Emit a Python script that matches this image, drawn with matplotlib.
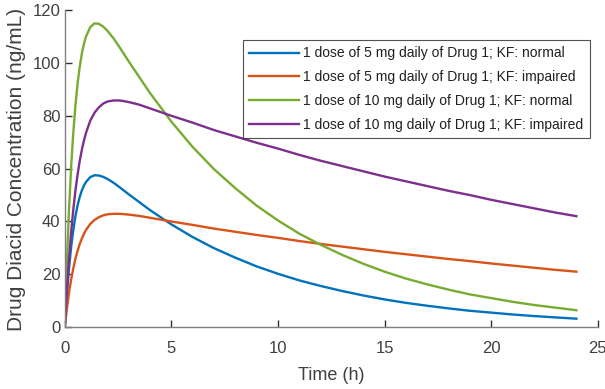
import matplotlib
matplotlib.use("Agg")
import matplotlib.pyplot as plt

# time points (h) and concentrations (ng/mL)
t = [0, 0.1, 0.2, 0.3, 0.4, 0.5, 0.6, 0.7, 0.8, 0.9, 1.0, 1.2, 1.4, 1.6, 1.8, 2.0, 2.3, 2.6,
     3.0, 3.5, 4, 4.5, 5, 6, 7, 8, 9, 10, 11, 12, 13, 14, 15, 16, 17, 18, 19, 20, 21, 22, 23, 24]
dose5_normal = [0, 12.3, 22.2, 30.3, 36.7, 41.9, 46.0, 49.2, 51.7, 53.6, 55.0, 56.8, 57.5, 57.4,
                56.9, 56.1, 54.6, 52.8, 50.3, 47.3, 44.3, 41.6, 38.9, 34.1, 29.9, 26.3, 23.0,
                20.2, 17.7, 15.6, 13.7, 12.0, 10.5, 9.2, 8.1, 7.1, 6.2, 5.5, 4.8, 4.2, 3.7, 3.2]
dose5_impaired = [0, 7.0, 13.0, 18.0, 22.2, 25.8, 28.8, 31.4, 33.5, 35.3, 36.8, 39.1, 40.6, 41.6,
                  42.3, 42.7, 42.9, 42.9, 42.6, 42.1, 41.4, 40.7, 40.0, 38.7, 37.3, 36.1, 34.9,
                  33.8, 32.6, 31.5, 30.5, 29.5, 28.5, 27.6, 26.7, 25.8, 25.0, 24.1, 23.3, 22.5,
                  21.7, 21.0]
dose10_normal = [0, 24.6, 44.4, 60.6, 73.4, 83.8, 92.0, 98.4, 103.4, 107.2, 110.0, 113.6, 115.0,
                 114.8, 113.8, 112.2, 109.2, 105.6, 100.6, 94.6, 88.6, 83.2, 77.8, 68.2, 59.8,
                 52.6, 46.0, 40.4, 35.4, 31.2, 27.4, 24.0, 21.0, 18.4, 16.2, 14.2, 12.4, 11.0,
                 9.6, 8.4, 7.4, 6.4]
dose10_impaired = [0, 14.0, 26.0, 36.0, 44.4, 51.6, 57.6, 62.8, 67.0, 70.6, 73.6, 78.2, 81.2,
                   83.2, 84.6, 85.4, 85.8, 85.8, 85.2, 84.2, 82.8, 81.4, 80.0, 77.4, 74.6, 72.2,
                   69.8, 67.6, 65.2, 63.0, 61.0, 59.0, 57.0, 55.2, 53.4, 51.6, 50.0, 48.2, 46.6,
                   45.0, 43.4, 42.0]

labels = ["1 dose of 5 mg daily of Drug 1; KF: normal",
          "1 dose of 5 mg daily of Drug 1; KF: impaired",
          "1 dose of 10 mg daily of Drug 1; KF: normal",
          "1 dose of 10 mg daily of Drug 1; KF: impaired"]
colors = ["#0072BD", "#D95319", "#77AC30", "#7E2F8E"]

plt.rcParams['font.family'] = ['Liberation Sans', 'DejaVu Sans']
txt = "#404040"

fig = plt.figure(figsize=(6.05, 3.89), dpi=100)
ax = fig.add_axes([0.107, 0.159, 0.881, 0.815])

for y, lab, c in zip([dose5_normal, dose5_impaired, dose10_normal, dose10_impaired], labels, colors):
    ax.plot(t, y, color=c, lw=1.7, label=lab, solid_joinstyle='round')

ax.set_xlim(0, 25)
ax.set_ylim(0, 120)
ax.set_xticks([0, 5, 10, 15, 20, 25])
ax.set_yticks([0, 20, 40, 60, 80, 100, 120])
ax.spines['top'].set_visible(False)
ax.spines['right'].set_visible(False)
for s in ['left', 'bottom']:
    ax.spines[s].set_color("#808080")
    ax.spines[s].set_linewidth(1.0)
ax.tick_params(direction='in', length=5, width=1, colors="#303030", labelsize=12,
               labelcolor=txt)
ax.tick_params(axis='x', pad=10)
ax.tick_params(axis='y', pad=3)
ax.set_xlabel("Time (h)", fontsize=13, color=txt)
ax.set_ylabel("Drug Diacid Concentration (ng/mL)", fontsize=15, color=txt)
ax.xaxis.set_label_coords(0.5, -0.125)
ax.yaxis.set_label_coords(-0.073, 0.498)

leg = ax.legend(loc='upper right', bbox_to_anchor=(0.985, 0.905), fontsize=10, frameon=True,
                fancybox=False, edgecolor="#262626", handlelength=3.6, handletextpad=0.3,
                borderpad=0.45, labelspacing=0.7, borderaxespad=0)
leg.get_frame().set_linewidth(0.8)
for tx in leg.get_texts():
    tx.set_color("#202020")

fig.savefig("out.png", dpi=100)
